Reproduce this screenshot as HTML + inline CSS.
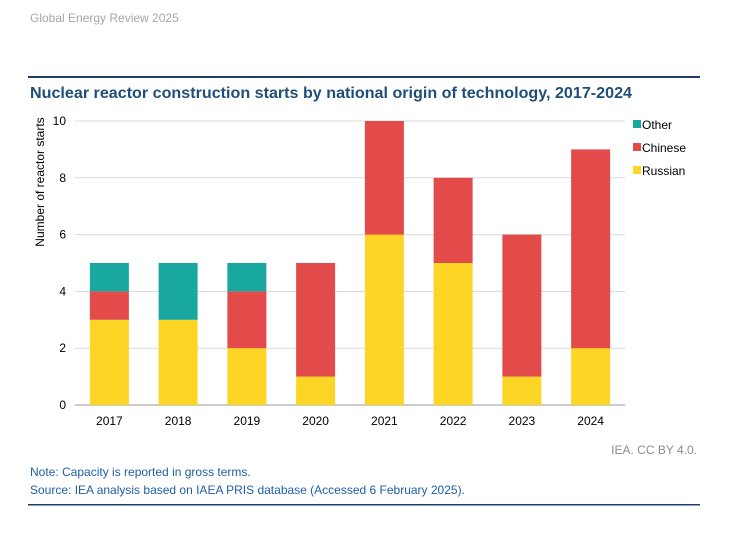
<!DOCTYPE html>
<html><head><meta charset="utf-8"><style>
body{margin:0;background:#fff;width:729px;height:534px;overflow:hidden;font-family:"Liberation Sans",Arial,sans-serif;}
</style></head><body>
<svg width="729" height="534" xmlns="http://www.w3.org/2000/svg" font-family="Liberation Sans, Arial, sans-serif">
<text x="30" y="22" font-size="12" fill="#a6a6a6">Global Energy Review 2025</text>
<rect x="28" y="76" width="672" height="2" fill="#1f3d6b"/>
<text x="30" y="98" font-size="15.5" font-weight="bold" fill="#1f4e79" textLength="602" lengthAdjust="spacingAndGlyphs">Nuclear reactor construction starts by national origin of technology, 2017-2024</text>
<g id="grid"></g>
<g id="bars"></g>
<g id="xlabels"></g>
<text transform="translate(44,182) rotate(-90)" text-anchor="middle" font-size="12" fill="#000">Number of reactor starts</text>
<g id="legend"></g>
<text x="697" y="454" text-anchor="end" font-size="12" fill="#8c8c8c">IEA. CC BY 4.0.</text>
<text x="30" y="476" font-size="12" fill="#1f5fa8">Note: Capacity is reported in gross terms.</text>
<text x="30" y="494" font-size="12" fill="#1f5fa8">Source: IEA analysis based on IAEA PRIS database (Accessed 6 February 2025).</text>
<rect x="28" y="504" width="672" height="1.5" fill="#1f3d6b"/>
</svg>
<script>
const years=["2017","2018","2019","2020","2021","2022","2023","2024"];
const russian=[3,3,2,1,6,5,1,2];
const chinese=[1,0,2,4,4,3,5,7];
const other=[1,2,1,0,0,0,0,0];
const yTicks=[0,2,4,6,8,10];
const NS="http://www.w3.org/2000/svg";
const x0=75,x1=625,y0=405,y1=121,yMax=10;
const step=(x1-x0)/years.length, bw=39;
const ys=v=>y0-(y0-y1)*v/yMax;
const xc=i=>x0+step*(i+0.5);
function mk(tag,attrs,parent){const e=document.createElementNS(NS,tag);for(const k in attrs)e.setAttribute(k,attrs[k]);document.getElementById(parent).appendChild(e);return e;}
yTicks.forEach(t=>{
  const l=mk('line',{x1:x0,x2:x1,y1:ys(t),y2:ys(t),stroke:t===0?'#999':'#d9d9d9','stroke-width':1},'grid');
  
  
  const tx=mk('text',{x:66,y:ys(t)+4,'text-anchor':'end','font-size':12,fill:'#000'},'grid');
  tx.textContent=t;
  
  
});
const series=[["russian",russian,"#fdd524"],["chinese",chinese,"#e34b4a"],["other",other,"#19a8a0"]];
years.forEach((yr,i)=>{
  let base=0;
  series.forEach(([nm,arr,col])=>{
    const v=arr[i]; if(!v) return;
    const r=mk('rect',{x:xc(i)-bw/2,y:ys(base+v),width:bw,height:ys(base)-ys(base+v),fill:col},'bars');
    
    
    base+=v;
  });
  const t=mk('text',{x:xc(i),y:425,'text-anchor':'middle','font-size':12,fill:'#000'},'xlabels');
  t.textContent=yr;
  
  
});
const legend=[["Other","#19a8a0"],["Chinese","#e34b4a"],["Russian","#fdd524"]];
legend.forEach(([lab,col],k)=>{
  const y=125+k*23;
  const r=mk('rect',{x:633,y:y-5,width:8,height:8,fill:col},'legend');
  
  
  const t=mk('text',{x:642,y:y+4,'font-size':12,fill:'#000'},'legend');
  t.textContent=lab;
  
  
});
</script>
</body></html>
